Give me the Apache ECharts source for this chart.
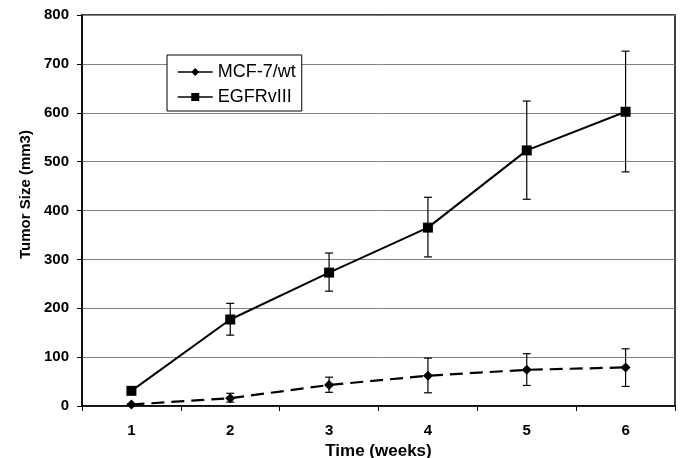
<!DOCTYPE html>
<html><head><meta charset="utf-8">
<script src="https://cdn.jsdelivr.net/npm/echarts@6/dist/echarts.min.js"></script>
<style>html,body{margin:0;padding:0;background:#fff}#c{width:681px;height:458px}</style>
</head><body><div id="c"></div>
<script>
const weeks = ['1','2','3','4','5','6'];
const mcfMean = [3, 16, 43, 62, 74, 79];
const mcfLow  = [1, 8, 28, 27, 42, 40];
const mcfHigh = [5, 26, 59, 98, 107, 117];
const egfrMean = [31, 177, 273, 365, 523, 602];
const egfrLow  = [31, 145, 235, 305, 423, 479];
const egfrHigh = [31, 210, 313, 427, 624, 726];
const yTicks = [0, 100, 200, 300, 400, 500, 600, 700, 800];

const chart = echarts.init(document.getElementById('c'));
const font = 'Liberation Sans, Arial, sans-serif';

function errData(low, high) {
  return weeks.map((w, i) => [i, low[i], high[i]]);
}
function errRender(params, api) {
  const x = api.value(0);
  const lo = api.coord([x, api.value(1)]);
  const hi = api.coord([x, api.value(2)]);
  const w = 4;
  const st = { stroke: '#000', lineWidth: 1.2 };
  return { type: 'group', children: [
    { type: 'line', shape: { x1: lo[0], y1: lo[1], x2: hi[0], y2: hi[1] }, style: st },
    { type: 'line', shape: { x1: lo[0]-w, y1: lo[1], x2: lo[0]+w, y2: lo[1] }, style: st },
    { type: 'line', shape: { x1: hi[0]-w, y1: hi[1], x2: hi[0]+w, y2: hi[1] }, style: st }
  ]};
}

chart.setOption({
  animation: false,
  backgroundColor: '#fff',
  grid: { left: 82, right: 6, top: 15, bottom: 52, show: true, borderColor: '#000', borderWidth: 1.5,
          containLabel: false, outerBoundsMode: 'none' },
  legend: {
    left: 167, top: 55, orient: 'vertical',
    data: ['MCF-7/wt', 'EGFRvIII'],
    itemWidth: 35, itemHeight: 10, itemGap: 5,
    padding: [7, 6, 4, 10],
    borderColor: '#000', borderWidth: 1, backgroundColor: '#fff',
    lineStyle: { type: 'solid', width: 1.5 },
    textStyle: { fontFamily: font, fontSize: 18, color: '#000', lineHeight: 20 }
  },
  xAxis: {
    type: 'category', data: weeks, boundaryGap: true,
    name: 'Time (weeks)', nameLocation: 'middle', nameGap: 35,
    nameTextStyle: { fontFamily: font, fontSize: 17, fontWeight: 'bold', color: '#000' },
    axisLine: { lineStyle: { color: '#000', width: 1.5 } },
    axisTick: { show: true, length: 5, lineStyle: { color: '#000' } },
    axisLabel: { fontFamily: font, fontSize: 15, fontWeight: 'bold', color: '#000', margin: 17 },
    splitLine: { show: false }
  },
  yAxis: {
    type: 'value', min: yTicks[0], max: yTicks[yTicks.length-1], interval: 100,
    name: 'Tumor Size (mm3)', nameLocation: 'middle', nameGap: 48,
    nameTextStyle: { fontFamily: font, fontSize: 15, fontWeight: 'bold', color: '#000', padding: [0, 0, 0, 32] },
    axisLine: { show: true, lineStyle: { color: '#000', width: 1.5 } },
    axisTick: { show: true, length: 5, lineStyle: { color: '#000' } },
    axisLabel: { fontFamily: font, fontSize: 15, fontWeight: 'bold', color: '#000', margin: 13 },
    splitLine: { show: true, lineStyle: { color: '#808080', width: 1 } }
  },
  series: [
    {
      name: 'MCF-7/wt', type: 'line', data: mcfMean,
      symbol: 'diamond', symbolSize: 10,
      itemStyle: { color: '#000' },
      lineStyle: { color: '#000', width: 2.2, type: [13, 7] }
    },
    {
      name: 'EGFRvIII', type: 'line', data: egfrMean,
      symbol: 'rect', symbolSize: 10,
      itemStyle: { color: '#000' },
      lineStyle: { color: '#000', width: 2 }
    },
    { type: 'custom', renderItem: errRender, data: errData(mcfLow, mcfHigh), z: 1, silent: true },
    { type: 'custom', renderItem: errRender, data: errData(egfrLow, egfrHigh), z: 1, silent: true }
  ]
});
</script></body></html>
